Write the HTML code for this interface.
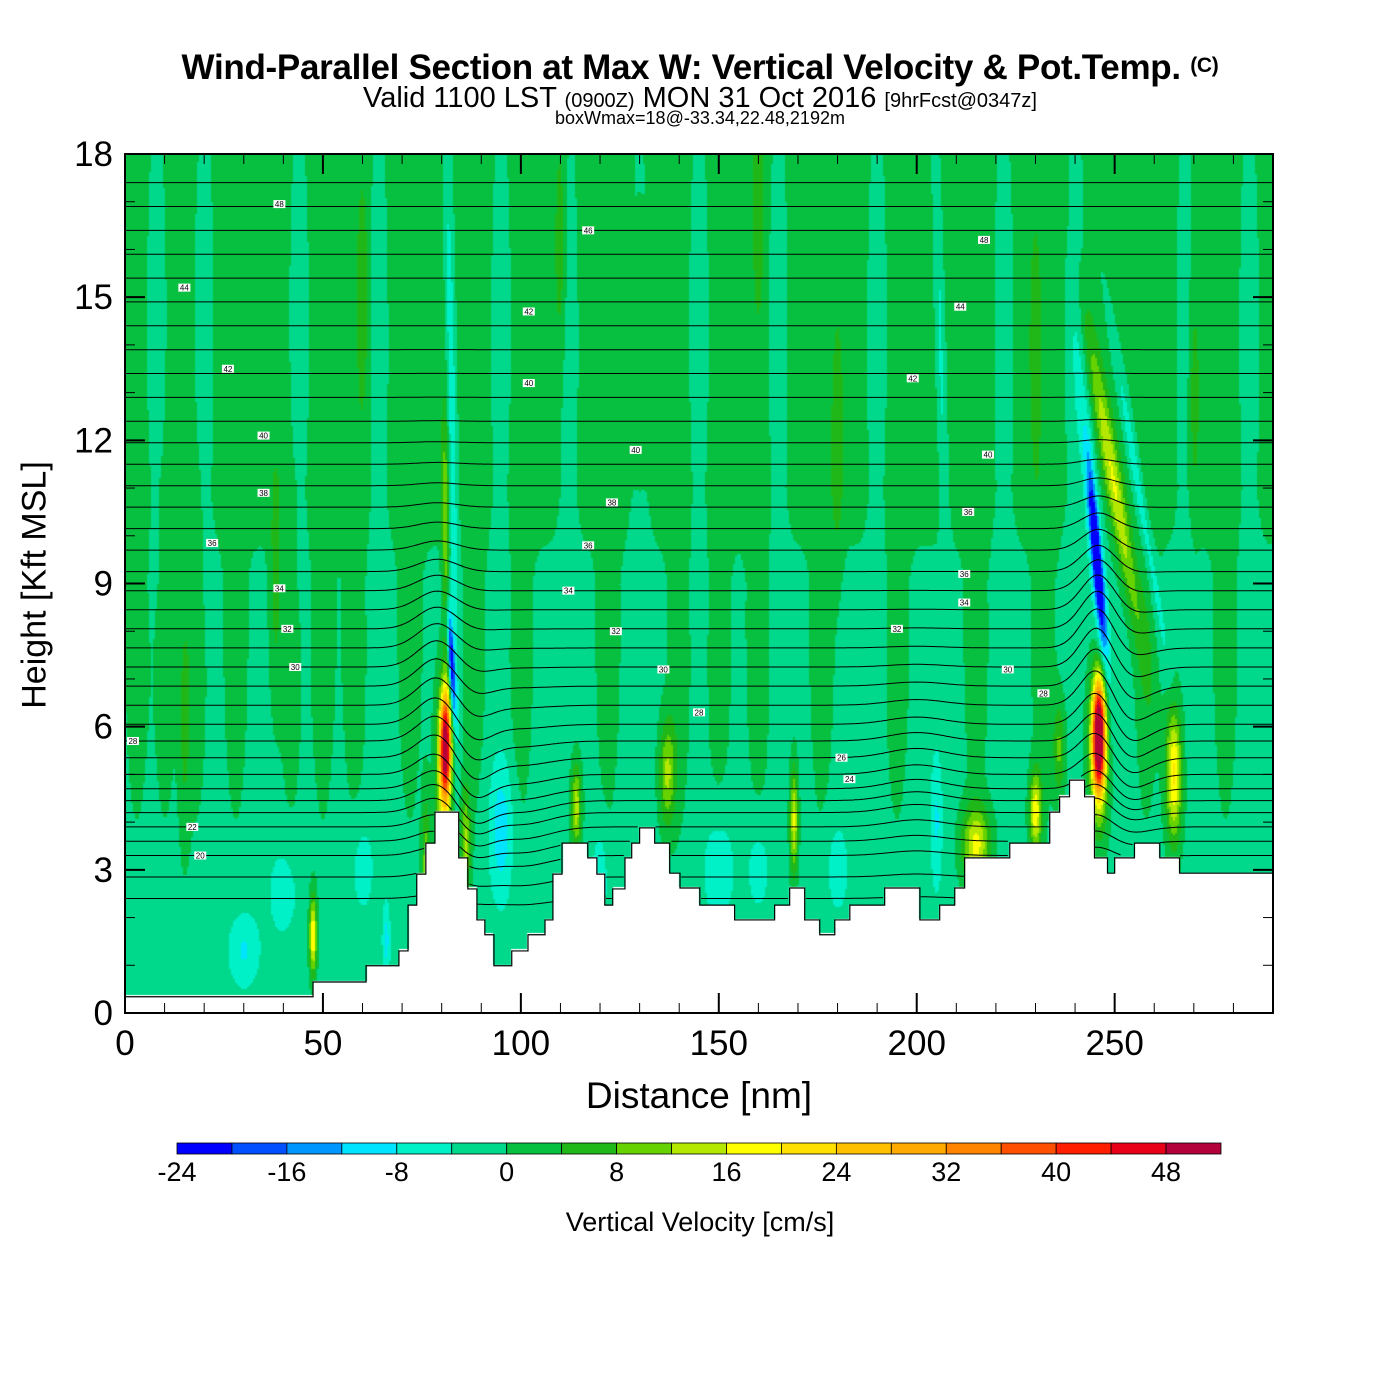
<!DOCTYPE html>
<html><head><meta charset="utf-8"><style>
body{margin:0;background:#fff;width:1400px;height:1400px;position:relative;overflow:hidden;font-family:"Liberation Sans",sans-serif}
.t{position:absolute;white-space:nowrap;color:#000}
#fld{position:absolute;left:125px;top:154px}
svg{position:absolute;left:0;top:0}
</style></head><body>
<div class="t" style="left:0;width:1400px;text-align:center;top:48px;font-weight:bold;font-size:35px;letter-spacing:-0.3px">Wind-Parallel Section at Max W: Vertical Velocity &amp; Pot.Temp. <span style="font-size:21px;vertical-align:7px">(C)</span></div>
<div class="t" style="left:0;width:1400px;text-align:center;top:82px;font-size:29px">Valid 1100 LST <span style="font-size:20px">(0900Z)</span> MON 31 Oct 2016 <span style="font-size:20px">[9hrFcst@0347z]</span></div>
<div class="t" style="left:0;width:1400px;text-align:center;top:108px;font-size:18px">boxWmax=18@-33.34,22.48,2192m</div>
<canvas id="fld" width="1148" height="859"></canvas>
<svg id="ov" width="1400" height="1400"></svg>
<div class="t" style="left:0;width:1398px;text-align:center;top:1075px;font-size:37px">Distance [nm]</div>
<div class="t" style="left:35px;top:585px;font-size:34px;transform:translate(-50%,-50%) rotate(-90deg)">Height [Kft MSL]</div>
<div class="t" style="left:0;width:1400px;text-align:center;top:1207px;font-size:27px">Vertical Velocity [cm/s]</div>
<script>
// ---------- data ----------
const binColors=["#0000ff","#0050ff","#0096ff","#00e4ff","#00f0c8","#00d88c","#08c040","#20b818","#66d200","#b4e800","#ffff00","#ffe000","#ffc000","#ffaa00","#ff8400","#ff5000","#ff1e00","#e80018","#b4003a"];
const cbTicks=[-24,-16,-8,0,8,16,24,32,40,48];
const xTicks=[0,50,100,150,200,250];
const yTicks=[0,3,6,9,12,15,18];
const terrX=[0,47.5,60.9,69.2,71.5,73.7,76.0,78.3,84.3,86.6,88.9,90.9,93.2,97.7,101.8,106.1,108.1,110.4,116.9,119.2,121.2,123.2,126.3,128,130,133.8,137.6,140.2,145.2,154,164.1,167.9,171.7,175.5,179.3,183.1,191.9,200.8,205.8,209.6,212.1,223.5,233.6,236.1,238.6,242.4,244.9,248.2,250,255,261.4,266.4];
const terrH=[0.34,0.65,0.99,1.3,2.26,2.91,3.56,4.21,3.25,2.6,1.95,1.64,0.99,1.3,1.64,1.95,2.91,3.56,3.25,2.91,2.26,2.6,3.25,3.56,3.88,3.56,2.93,2.62,2.26,1.95,2.26,2.62,1.95,1.64,1.95,2.26,2.62,1.95,2.26,2.62,3.25,3.56,4.21,4.53,4.88,4.53,3.25,2.93,3.25,3.56,3.25,2.93];
const fX=[81,80.5,81,82.5,82.5,246,246,245.5,245,250,256,265,169,47.5,114,137,215,230,236,76,86,95,150,205,30,66,120,206,180,60,160,40];
const fY=[5.6,5,10,7.3,13,5.8,5.5,9.5,10,11,11,5,4,1.6,4.3,5,3.5,4.2,5.5,3,3.5,3.8,3,4,1.3,1.5,2.8,14,3,3,3,2.5];
const fW=[44,18,12,-24,-8,50,20,-24,-10,15,-8,22,18,22,16,14,18,20,10,12,14,-9,-6,-7,-7,-8,-6,-6,-5,-5,-5,-5];
const fSX=[1.3,2,0.9,0.8,1.2,1.5,2.5,1.1,2,2.2,1.5,2,1,0.9,1.3,2,3.5,1.5,1.5,1,1.2,3,4,1.5,4,1,2,1.2,3,3,3,4];
const fSY=[1.1,1.8,2.5,1.2,6,1.1,1.6,1.8,3.5,3.2,3.5,1.4,1.1,0.8,0.9,1.1,0.8,0.8,1,1.5,1.2,1.5,1.2,1.5,0.8,0.8,1,5,1,1,1,1];
const fTilt=[0,0,-0.1,-0.6,-0.2,0,0,-1,-1,-2,-2,0,0,0,0,0,0,0,0,0,0,0,0,0,0,0,0,-0.3,0,0,0,0];
const baseYs=[0,5,9,11,18];
const baseWs=[-1.5,-1.5,-1,1.5,1.5];
const tealX=[8,20,44,64,95,112,145,165,190,222,268,284,130,240];
const greenX=[3,18,28,42,58,72,100,122,140,160,176,195,215,232,258,278,10,50,88,150];
const darkX=[38,130,60,180,230,15,110,160,270];
const darkY=[9,14,15,12,14,6,16,17,13];
const thLevels=[18,19,20,21,22,23,24,25,26,27,28,29,30,31,32,33,34,35,36,37,38,39,40,41,42,43,44,45,46,47,48,49,50,51,52,53,54];
const thBase=[2.4,2.85,3.3,3.6,3.9,4.2,4.45,4.7,5.0,5.35,5.7,6.05,6.45,6.85,7.25,7.65,8.05,8.45,8.85,9.25,9.7,10.15,10.6,11.05,11.5,11.95,12.4,12.9,13.4,13.9,14.4,14.9,15.4,15.9,16.4,16.9,17.4];
const bumpX=[79,88,246,252,100,200];
const bumpA=[0.6,-0.5,1.0,-0.5,-0.25,0.2];
const bumpW=[7,6,6,8,10,10];
const bumpHc=[6.5,5,7,6,4,5];
const bumpHs=[3,2,3,2,2,2];
const lblText=["48","46","44","42","40","38","36","34","32","30","28","22","20","40","38","36","34","32","30","28","26","24","42","40","36","34","32","30","28","48","44","42","40","36"];
const lblX=[39,117,15,26,35,35,22,39,41,43,2,17,19,129,123,117,112,124,136,145,181,183,102,102,212,212,195,223,232,217,211,199,218,213];
const lblY=[16.95,16.4,15.2,13.5,12.1,10.9,9.85,8.9,8.05,7.25,5.7,3.9,3.3,11.8,10.7,9.8,8.85,8.0,7.2,6.3,5.35,4.9,14.7,13.2,9.2,8.6,8.05,7.2,6.7,16.2,14.8,13.3,11.7,10.5];

// ---------- scales ----------
const X0=125,X1=1273,Y0=1013,Y1=154;
const sx=v=>X0+(v/290)*(X1-X0);
const sy=v=>Y0-(v/18)*(Y0-Y1);
function terrain(x){let h=terrH[0];for(let i=0;i<terrX.length;i++){if(x>=terrX[i])h=terrH[i];}return h;}
function baseAt(y){for(let i=0;i<baseYs.length-1;i++){if(y<=baseYs[i+1]){const t=(y-baseYs[i])/(baseYs[i+1]-baseYs[i]);return baseWs[i]+t*(baseWs[i+1]-baseWs[i]);}}return baseWs[baseWs.length-1];}
function wAt(x,y){
  let w=baseAt(y);
  for(const tx of tealX){const d=(x-tx)/2.5,e=(y-14)/5;w-=4*Math.exp(-d*d-e*e);}
  for(const gx of greenX){const d=(x-gx)/2.8,e=(y-7.5)/3.5;w+=4*Math.exp(-d*d-e*e);}
  for(let i=0;i<darkX.length;i++){const d=(x-darkX[i])/1.5,e=(y-darkY[i])/2.5;w+=6*Math.exp(-d*d-e*e);}
  for(let i=0;i<fX.length;i++){const cx=fX[i]+fTilt[i]*(y-fY[i]);const d=(x-cx)/fSX[i],e=(y-fY[i])/fSY[i];w+=fW[i]*Math.exp(-d*d-e*e);}
  return w;
}
const cv=document.getElementById('fld'),ctx=cv.getContext('2d');
const W2=574,H2=430,off=document.createElement('canvas');off.width=W2;off.height=H2;
const oc=off.getContext('2d'),img=oc.createImageData(W2,H2);
const rgb=binColors.map(c=>[parseInt(c.substr(1,2),16),parseInt(c.substr(3,2),16),parseInt(c.substr(5,2),16)]);
for(let j=0;j<H2;j++){const y=18-(j*2+1)/859*18;for(let i=0;i<W2;i++){const x=(i*2+1)/1148*290;let k=(j*W2+i)*4;
  if(y<terrain(x)){img.data[k]=255;img.data[k+1]=255;img.data[k+2]=255;img.data[k+3]=255;continue;}
  let b=Math.floor((wAt(x,y)+24)/4);b=Math.max(0,Math.min(18,b));const c=rgb[b];
  img.data[k]=c[0];img.data[k+1]=c[1];img.data[k+2]=c[2];img.data[k+3]=255;}}
oc.putImageData(img,0,0);ctx.imageSmoothingEnabled=false;ctx.drawImage(off,0,0,1148,859);
const NS='http://www.w3.org/2000/svg',sv=document.getElementById('ov');
function mk(tag,attrs,parent){const e=document.createElementNS(NS,tag);for(const k in attrs)e.setAttribute(k,attrs[k]);(parent||sv).appendChild(e);return e;}
let tp='';for(let i=0;i<terrX.length;i++){const xa=sx(terrX[i]),xb=sx(i+1<terrX.length?terrX[i+1]:290);tp+=(i?'L':'M')+xa+','+sy(terrH[i])+'L'+xb+','+sy(terrH[i]);}
const tline=mk('path',{d:tp,fill:'none',stroke:'#000','stroke-width':1.2});


const cg=mk('g',{});


for(let l=0;l<thLevels.length;l++){
  let segs=[],cur=[];
  for(let x=0;x<=290;x+=0.5){let h=thBase[l];
    for(let b=0;b<bumpX.length;b++){const d=(x-bumpX[b])/bumpW[b],e=(thBase[l]-bumpHc[b])/bumpHs[b];h+=bumpA[b]*Math.exp(-d*d-e*e);}
    if(h>terrain(x)+0.05&&h<18){cur.push(sx(x).toFixed(1)+','+sy(h).toFixed(1));}else{if(cur.length>1)segs.push(cur);cur=[];}}
  if(cur.length>1)segs.push(cur);
  for(const s of segs){const p=mk('polyline',{points:s.join(' '),fill:'none',stroke:'#000','stroke-width':1},cg);
    
    }
}
for(let i=0;i<lblText.length;i++){const g=mk('g',{});
  
  
  mk('rect',{x:sx(lblX[i])-6,y:sy(lblY[i])-4,width:12,height:8,fill:'#fff'},g);
  const t=mk('text',{x:sx(lblX[i]),y:sy(lblY[i])+3,'font-size':8,'text-anchor':'middle','font-family':'Liberation Sans,sans-serif'},g);t.textContent=lblText[i];}
const fr=mk('rect',{x:X0,y:Y1,width:X1-X0,height:Y0-Y1,fill:'none',stroke:'#000','stroke-width':2});


for(let v=0;v<=290;v+=10){const maj=v%50===0,L=maj?20:10;
  mk('line',{x1:sx(v),x2:sx(v),y1:Y0,y2:Y0-L,stroke:'#000','stroke-width':maj?2:1});
  mk('line',{x1:sx(v),x2:sx(v),y1:Y1,y2:Y1+L,stroke:'#000','stroke-width':maj?2:1});}
for(let v=0;v<=18;v++){const maj=v%3===0,L=maj?20:10;
  mk('line',{x1:X0,x2:X0+L,y1:sy(v),y2:sy(v),stroke:'#000','stroke-width':maj?2:1});
  mk('line',{x1:X1,x2:X1-L,y1:sy(v),y2:sy(v),stroke:'#000','stroke-width':maj?2:1});}
for(const v of xTicks){const t=mk('text',{x:sx(v),y:1055,'font-size':35,'text-anchor':'middle','font-family':'Liberation Sans,sans-serif'});t.textContent=v;
  
  }
for(const v of yTicks){const t=mk('text',{x:113,y:sy(v)+12,'font-size':35,'text-anchor':'end','font-family':'Liberation Sans,sans-serif'});t.textContent=v;
  
  }
const CB0=177,CB1=1221,bw=(CB1-CB0)/binColors.length;
const cbg=mk('g',{});


binColors.forEach((c,i)=>{const r=mk('rect',{x:CB0+i*bw,y:1143,width:bw,height:11,fill:c,stroke:'#000','stroke-width':0.8},cbg);
  
  });
for(const v of cbTicks){const t=mk('text',{x:CB0+(v+24)/4*bw,y:1181,'font-size':27,'text-anchor':'middle','font-family':'Liberation Sans,sans-serif'},cbg);t.textContent=v;
  
  }
</script>
</body></html>
